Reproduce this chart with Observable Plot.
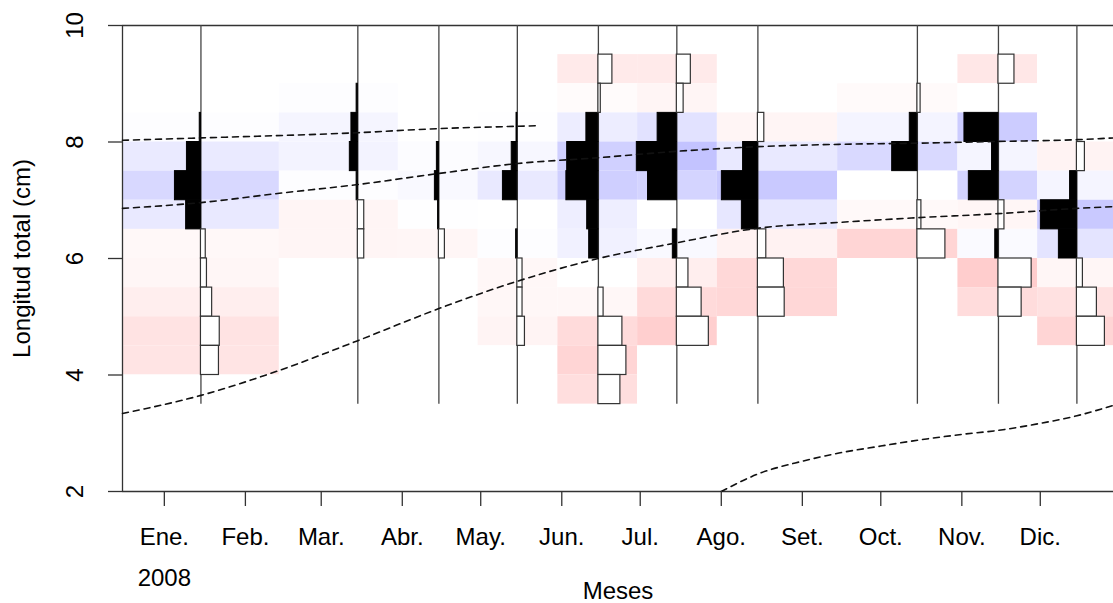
<!DOCTYPE html>
<html><head><meta charset="utf-8">
<script src="https://cdn.jsdelivr.net/npm/d3@7"></script>
<script src="https://cdn.jsdelivr.net/npm/@observablehq/plot@0.6"></script>
<style>body{margin:0;background:#fff}</style>
</head><body><div id="chart"></div>
<script>
// Sample dates (monthly samples)
const sampleDates = ["2008-01-15","2008-03-15","2008-04-15","2008-05-15","2008-06-15","2008-07-15","2008-08-15","2008-10-15","2008-11-15","2008-12-15"];
// Length classes (lower edge, cm), top to bottom
const binLower = [9.0, 8.5, 8.0, 7.5, 7.0, 6.5, 6.0, 5.5, 5.0, 4.5, 4.0, 3.5];
const binWidth = 0.5;
// Restructured scores per sample (same order as binLower)
const scoresEne = [0, 0, 0.03, 0.35, 0.65, 0.37, -0.12, -0.15, -0.28, -0.47, -0.45, 0];
const scoresMar = [0, 0.03, 0.16, 0.2, 0.03, -0.16, -0.16, 0, 0, 0, 0, 0];
const scoresAbr = [0, 0, 0, 0.05, 0.1, 0.02, -0.15, 0, 0, 0, 0, 0];
const scoresMay = [0, 0, 0.02, 0.14, 0.36, 0, 0.03, -0.13, -0.13, -0.19, 0, 0];
const scoresJun = [-0.35, -0.06, 0.3, 0.78, 0.8, 0.28, 0.23, 0, -0.13, -0.6, -0.7, -0.55];
const scoresJul = [-0.35, -0.17, 0.48, 1.0, 0.72, 0, 0.1, -0.29, -0.62, -0.8, 0, 0];
const scoresAgo = [0, 0, -0.16, 0.37, 0.9, 0.4, -0.21, -0.65, -0.67, 0, 0, 0];
const scoresOct = [0, -0.08, 0.19, 0.63, 0, -0.1, -0.7, 0, 0, 0, 0, 0];
const scoresNov = [-0.4, 0, 0.85, 0.16, 0.74, -0.15, 0.08, -0.83, -0.58, 0, 0, 0];
const scoresDic = [0, 0, 0, -0.2, 0.17, 0.9, 0.45, -0.15, -0.5, -0.7, 0, 0];
const scores = [scoresEne, scoresMar, scoresAbr, scoresMay, scoresJun, scoresJul, scoresAgo, scoresOct, scoresNov, scoresDic];

// Growth curves (dashed)
const cohortA = [["2007-12-16",8.03],["2008-01-15",8.07],["2008-03-15",8.16],["2008-04-15",8.23],["2008-05-15",8.27],["2008-05-23",8.28]];
const cohortB = [["2007-12-16",6.86],["2008-01-15",6.96],["2008-02-14",7.12],["2008-03-15",7.27],["2008-04-15",7.46],["2008-05-15",7.63],["2008-06-15",7.73],["2008-07-15",7.84],["2008-08-15",7.92],["2008-09-15",7.96],["2008-10-15",7.98],["2008-11-15",8.01],["2008-12-15",8.04],["2008-12-29",8.07]];
const cohortC = [["2007-12-16",3.34],["2008-01-15",3.65],["2008-02-14",4.08],["2008-03-15",4.59],["2008-04-15",5.14],["2008-05-15",5.61],["2008-06-15",6.0],["2008-07-15",6.27],["2008-08-15",6.52],["2008-09-15",6.62],["2008-10-15",6.70],["2008-11-15",6.77],["2008-12-15",6.86],["2008-12-29",6.89]];
const cohortD = [["2008-08-01",2.0],["2008-08-15",2.3],["2008-09-01",2.52],["2008-09-15",2.66],["2008-10-01",2.78],["2008-10-15",2.88],["2008-11-01",2.98],["2008-11-15",3.05],["2008-12-01",3.17],["2008-12-15",3.3],["2008-12-29",3.48]];

// Axis ticks and labels
const monthTicks = ["2008-01-01","2008-02-01","2008-03-01","2008-04-01","2008-05-01","2008-06-01","2008-07-01","2008-08-01","2008-09-01","2008-10-01","2008-11-01","2008-12-01"];
const monthLabels = ["Ene.","Feb.","Mar.","Abr.","May.","Jun.","Jul.","Ago.","Set.","Oct.","Nov.","Dic."];
const yTicks = [2, 4, 6, 8, 10];
const yearLabel = "2008";
const xTitle = "Meses";
const yTitle = "Longitud total (cm)";

const DAY = 864e5;
const barDays = 15.3; // days of x per unit score
const dates = sampleDates.map(s => new Date(s));
const n = dates.length;
const cells = [], bars = [];
dates.forEach((d, i) => {
  const start = i === 0 ? new Date(+d - (dates[1] - d) / 2) : new Date((+dates[i-1] + +d) / 2);
  const end = i === n - 1 ? new Date(+d + (d - dates[i-1]) / 2) : new Date((+d + +dates[i+1]) / 2);
  binLower.forEach((lo, j) => {
    const v = scores[i][j];
    cells.push({x1: start, x2: end, y1: lo, y2: lo + binWidth, v});
    if (v !== 0) bars.push({x1: d, x2: new Date(+d - v * barDays * DAY), y1: lo, y2: lo + binWidth, v});
  });
});
const curves = [];
[["A", cohortA], ["B", cohortB], ["C", cohortC], ["D", cohortD]].forEach(([k, arr]) =>
  arr.forEach(([s, L]) => curves.push({cohort: k, date: new Date(s), len: L})));

const xDomain = [new Date("2007-12-16"), new Date("2008-12-29")];
const FS = 24;

const chart = Plot.plot({
  width: 1113, height: 603,
  marginLeft: 122, marginRight: 0, marginTop: 25, marginBottom: 112,
  style: {fontFamily: "'Liberation Sans', Arial, sans-serif", fontSize: FS + "px", background: "white", color: "black"},
  x: {type: "utc", domain: xDomain},
  y: {domain: [2, 10]},
  color: {type: "linear", domain: [-1, 0, 1], range: ["rgb(255,195,195)", "rgb(255,255,255)", "rgb(195,195,255)"], interpolate: "rgb", clamp: true},
  marks: [
    Plot.rect(cells, {x1: "x1", x2: "x2", y1: "y1", y2: "y2", fill: "v"}),
    Plot.ruleY([2, 10], {stroke: "#333", strokeWidth: 1.3}),
    Plot.ruleX([xDomain[0]], {stroke: "#333", strokeWidth: 1.3}),
    Plot.ruleX(dates, {y1: 3.5, y2: 10, stroke: "#444", strokeWidth: 1.3}),
    Plot.rect(bars.filter(b => b.v > 0), {x1: "x1", x2: "x2", y1: "y1", y2: "y2", fill: "black", stroke: "black", strokeWidth: 1}),
    Plot.rect(bars.filter(b => b.v < 0), {x1: "x1", x2: "x2", y1: "y1", y2: "y2", fill: "white", stroke: "#333", strokeWidth: 1.2}),
    Plot.line(curves, {x: "date", y: "len", z: "cohort", curve: "monotone-x", stroke: "#111", strokeWidth: 1.6, strokeDasharray: "6,5"}),
    Plot.axisX({ticks: monthTicks.map(s => new Date(s)), tickSize: 15, tickPadding: 21, tickFormat: d => monthLabels[d.getUTCMonth()], label: null, stroke: "#333", strokeWidth: 1.3, fontSize: FS}),
    Plot.axisY({ticks: yTicks, tickSize: 14, tickFormat: () => "", label: null, stroke: "#333", strokeWidth: 1.3}),
    Plot.text(yTicks, {y: d => d, text: d => String(d), frameAnchor: "left", dx: -47, rotate: -90, textAnchor: "middle", lineAnchor: "middle", fontSize: FS}),
    Plot.text([yearLabel], {x: new Date("2008-01-01"), frameAnchor: "bottom", dy: 87, lineAnchor: "middle", textAnchor: "middle", fontSize: FS}),
    Plot.text([xTitle], {frameAnchor: "bottom", dy: 100, lineAnchor: "middle", textAnchor: "middle", fontSize: FS}),
    Plot.text([yTitle], {frameAnchor: "left", dx: -100, rotate: -90, lineAnchor: "middle", textAnchor: "middle", fontSize: FS})
  ]
});
document.getElementById("chart").appendChild(chart);
</script>
</body></html>
